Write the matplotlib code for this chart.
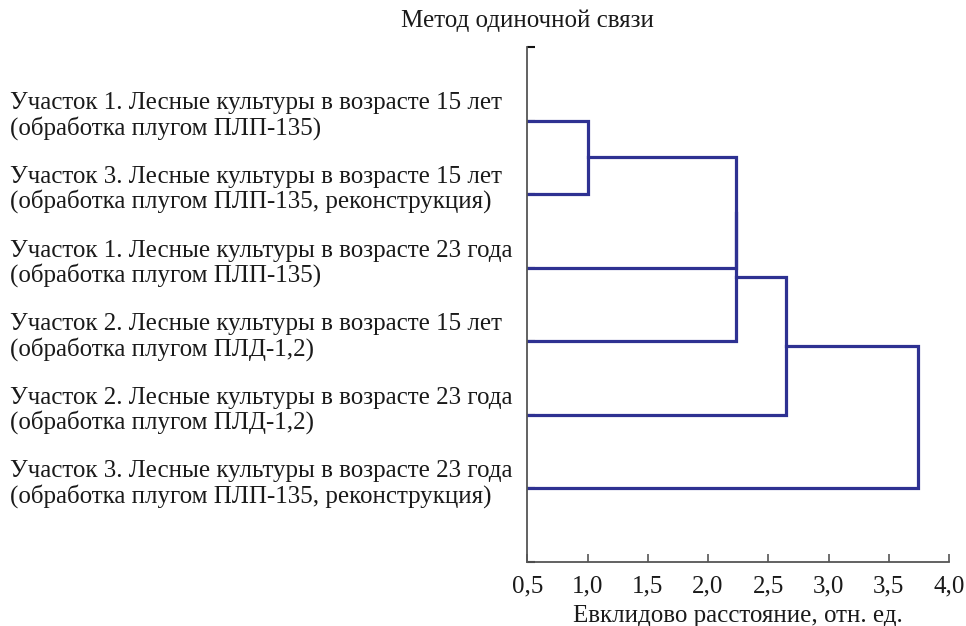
import matplotlib
matplotlib.use("Agg")
import matplotlib.pyplot as plt
import matplotlib.transforms as mtransforms
from matplotlib.ticker import FuncFormatter

# ---- data ----
leaf_labels = [
    "Участок 1. Лесные культуры в возрасте 15 лет\n(обработка плугом ПЛП-135)",
    "Участок 3. Лесные культуры в возрасте 15 лет\n(обработка плугом ПЛП-135, реконструкция)",
    "Участок 1. Лесные культуры в возрасте 23 года\n(обработка плугом ПЛП-135)",
    "Участок 2. Лесные культуры в возрасте 15 лет\n(обработка плугом ПЛД-1,2)",
    "Участок 2. Лесные культуры в возрасте 23 года\n(обработка плугом ПЛД-1,2)",
    "Участок 3. Лесные культуры в возрасте 23 года\n(обработка плугом ПЛП-135, реконструкция)",
]
# merges: (node a, node b, distance); leaves are 0..5, new nodes 6, 7, ...
merge_a = [0, 6, 7, 8, 9]
merge_b = [1, 2, 3, 4, 5]
merge_dist = [1.0, 2.236, 2.236, 2.646, 3.742]
x_ticks = [0.5, 1.0, 1.5, 2.0, 2.5, 3.0, 3.5, 4.0]

title = "Метод одиночной связи"
xlabel = "Евклидово расстояние, отн. ед."

# ---- figure ----
plt.rcParams['font.family'] = ['Liberation Serif', 'DejaVu Serif']
W, H = 966, 626
FS = 18
fig = plt.figure(figsize=(W / 100, H / 100), dpi=100)
ax = fig.add_axes([527.3 / W, 1 - 562 / H, (949 - 527.3) / W, (562 - 47) / H])

line_color = '#2e3192'
xmin = x_ticks[0]
# node positions
pos_y = {i: i + 1 for i in range(len(leaf_labels))}
pos_x = {i: xmin for i in range(len(leaf_labels))}
node = len(leaf_labels)
for a, b, d in zip(merge_a, merge_b, merge_dist):
    ya, yb = pos_y[a], pos_y[b]
    ax.plot([pos_x[a], d, d, pos_x[b]], [ya, ya, yb, yb],
            color=line_color, lw=2.3, solid_joinstyle='miter', zorder=2)
    pos_y[node] = (ya + yb) / 2
    pos_x[node] = d
    node += 1

ax.set_xlim(xmin, x_ticks[-1])
ax.set_ylim(len(leaf_labels) + 1, 0)
ax.set_xticks(x_ticks)
ax.xaxis.set_major_formatter(FuncFormatter(lambda v, p: f"{v:.1f}".replace('.', ',')))
ax.set_yticks(range(len(leaf_labels) + 2))
ax.set_yticklabels([])

for s in ['top', 'right']:
    ax.spines[s].set_visible(False)
for s in ['left', 'bottom']:
    ax.spines[s].set_color('#555555')
    ax.spines[s].set_linewidth(1.3)

ax.tick_params(axis='x', direction='in', length=6, width=1.2, color='#555555',
               labelsize=FS, pad=10, labelcolor='#1a1a1a')
ax.tick_params(axis='y', direction='in', length=6, width=1.5, color='#111111')

ax.set_xlabel(xlabel, fontsize=FS, color='#1a1a1a', labelpad=5)

fig.text(527 / W, 1 - 21 / H, title, ha='center', va='center', fontsize=FS, color='#1a1a1a')

trans = mtransforms.blended_transform_factory(fig.transFigure, ax.transData)
for i, lab in enumerate(leaf_labels):
    ax.text(10 / W, i + 1 - 0.06, lab, transform=trans, ha='left', va='center',
            fontsize=FS, color='#1a1a1a', linespacing=1.08, clip_on=False)

fig.savefig("out.png", dpi=100)
